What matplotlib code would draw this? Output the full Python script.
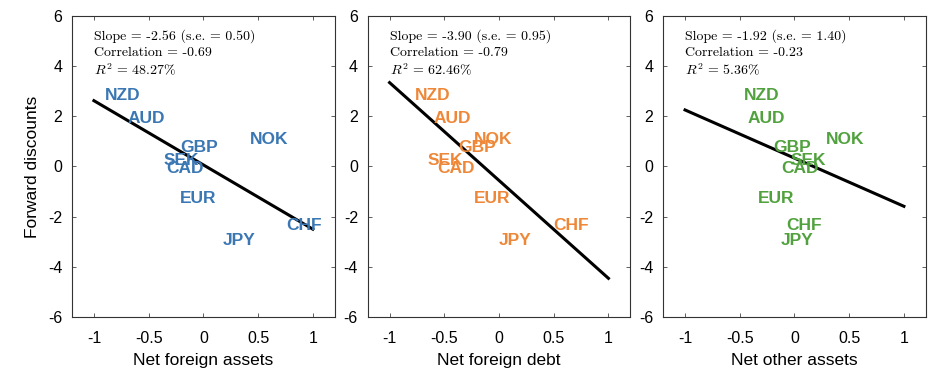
import matplotlib
matplotlib.use('Agg')
import matplotlib.pyplot as plt
import numpy as np

plt.rcParams['font.family'] = ['Liberation Sans', 'DejaVu Sans']
plt.rcParams['mathtext.fontset'] = 'cm'

# Dados
moedas = ['NZD', 'AUD', 'GBP', 'SEK', 'CAD', 'EUR', 'NOK', 'CHF', 'JPY']
forward_discounts = [2.82, 1.89, 0.74, 0.24, -0.07, -1.29, 1.06, -2.37, -2.97]

net_foreign_assets = [-0.74, -0.52, -0.04, -0.20, -0.17, -0.05, 0.60, 0.92, 0.33]
net_foreign_debt = [-0.61, -0.43, -0.20, -0.49, -0.39, -0.06, -0.05, 0.66, 0.15]
net_other_assets = [-0.30, -0.26, -0.02, 0.13, 0.05, -0.17, 0.46, 0.09, 0.02]

slopes = [-2.56, -3.90, -1.92]
intercepts = [0.06, -0.56, 0.33]
standard_errors = [0.50, 0.95, 1.40]
correlations = [-0.69, -0.79, -0.23]
r_quadrados = [48.27, 62.46, 5.36]

x_labels = ['Net foreign assets', 'Net foreign debt', 'Net other assets']
cores = ['#3A77B3', '#EE8838', '#51A23F']
x_series = [net_foreign_assets, net_foreign_debt, net_other_assets]

x_ticks = [-1, -0.5, 0, 0.5, 1]
x_tick_labels = ['-1', '-0.5', '0', '0.5', '1']
y_ticks = [-6, -4, -2, 0, 2, 4, 6]
y_tick_labels = ['-6', '-4', '-2', '0', '2', '4', '6']

fig = plt.figure(figsize=(9.38, 3.87), dpi=100)
lefts = [0.0768, 0.392, 0.707]

for i in range(3):
    ax = fig.add_axes([lefts[i], 0.181, 0.280, 0.778])
    ax.set_xlim(-1.2, 1.2)
    ax.set_ylim(-6, 6)

    # rótulos das moedas
    for nome, xv, yv in zip(moedas, x_series[i], forward_discounts):
        ax.text(xv, yv, nome, color=cores[i], fontsize=12.5, fontweight='bold',
                ha='center', va='center')

    # reta de regressão
    xs = np.array([-1, 1])
    ax.plot(xs, intercepts[i] + slopes[i] * xs, color='black', linewidth=2.2)

    # estatísticas
    ax.text(-1, 5.2, 'Slope = %.2f (s.e. = %.2f)' % (slopes[i], standard_errors[i]),
            fontfamily='cmr10', fontsize=10, va='center', ha='left')
    ax.text(-1, 4.53, 'Correlation = %.2f' % correlations[i],
            fontfamily='cmr10', fontsize=10, va='center', ha='left')
    ax.text(-1, 3.86, r'$R^2$ = %.2f%%' % r_quadrados[i],
            fontfamily='cmr10', fontsize=10, va='center', ha='left')

    ax.set_xticks(x_ticks)
    ax.set_xticklabels(x_tick_labels)
    ax.set_yticks(y_ticks)
    ax.set_yticklabels(y_tick_labels)
    ax.tick_params(direction='in', top=True, right=True, length=3,
                   labelsize=11.5, width=0.6, color='#444444')
    ax.tick_params(axis='x', pad=10)
    ax.tick_params(axis='y', pad=7)
    for s in ax.spines.values():
        s.set_linewidth(0.8)
        s.set_color('#333333')
    ax.set_xlabel(x_labels[i], fontsize=12.5, labelpad=5)
    if i == 0:
        ax.set_ylabel('Forward discounts', fontsize=12.5, labelpad=6)

fig.savefig('out.png', dpi=100)
